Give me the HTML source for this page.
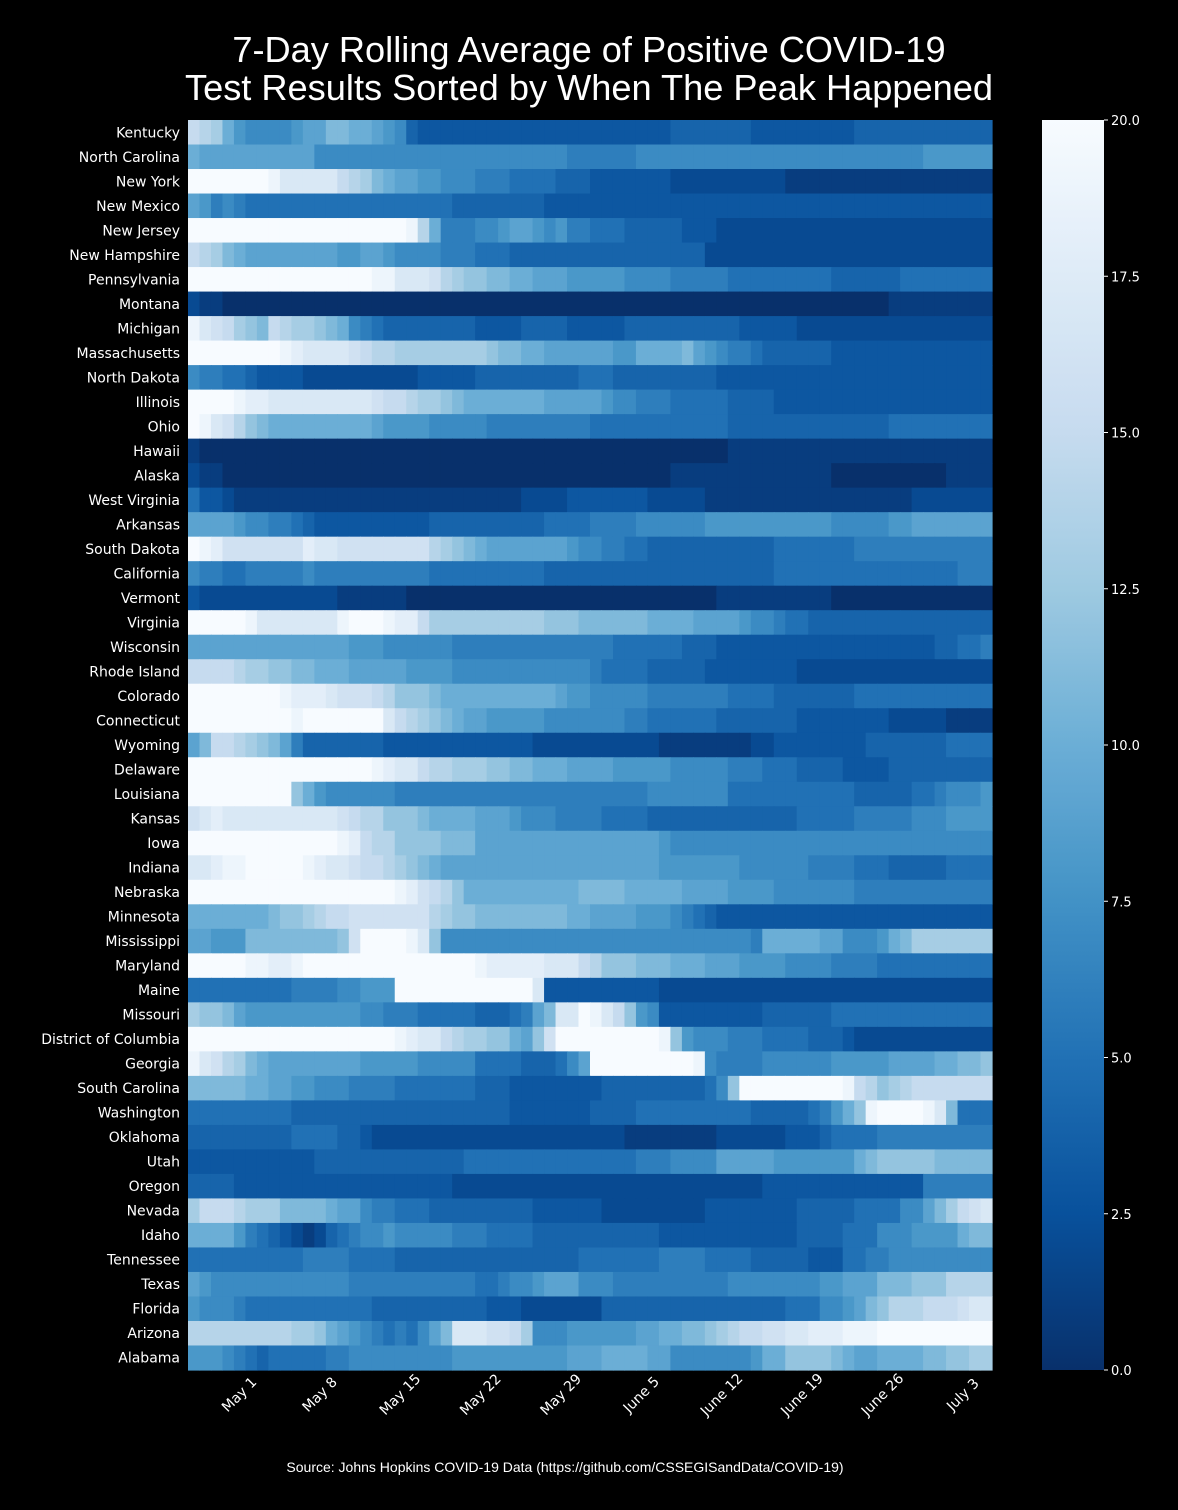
<!DOCTYPE html>
<html><head><meta charset="utf-8">
<style>
html,body{margin:0;padding:0;background:#000;}
svg{display:block;}
text{fill:#fff;}
</style></head>
<body>
<svg id="chart" width="1178" height="1510" viewBox="0 0 1178 1510" xmlns="http://www.w3.org/2000/svg">
<rect x="0" y="0" width="1178" height="1510" fill="#000"/>
<text x="589" y="62" text-anchor="middle" font-family="Liberation Sans, sans-serif" font-size="36.2">7-Day Rolling Average of Positive COVID-19</text>
<text x="589" y="100" text-anchor="middle" font-family="Liberation Sans, sans-serif" font-size="36.2">Test Results Sorted by When The Peak Happened</text>
<g id="cells"></g>
<g id="ylabels"></g>
<g id="xlabels"></g>
<defs><linearGradient id="cbgrad" x1="0" y1="1" x2="0" y2="0"></linearGradient></defs>
<rect x="1042" y="120" width="62" height="1250" fill="url(#cbgrad)"/>
<g id="cbticks"></g>
<text x="565" y="1472" text-anchor="middle" font-family="Liberation Sans, sans-serif" font-size="14">Source: Johns Hopkins COVID-19 Data (https://github.com/CSSEGISandData/COVID-19)</text>
</svg>
<script>
const states = ["Kentucky","North Carolina","New York","New Mexico","New Jersey","New Hampshire","Pennsylvania","Montana","Michigan","Massachusetts","North Dakota","Illinois","Ohio","Hawaii","Alaska","West Virginia","Arkansas","South Dakota","California","Vermont","Virginia","Wisconsin","Rhode Island","Colorado","Connecticut","Wyoming","Delaware","Louisiana","Kansas","Iowa","Indiana","Nebraska","Minnesota","Mississippi","Maryland","Maine","Missouri","District of Columbia","Georgia","South Carolina","Washington","Oklahoma","Utah","Oregon","Nevada","Idaho","Tennessee","Texas","Florida","Arizona","Alabama"];
const dateTicks = ["May 1","May 8","May 15","May 22","May 29","June 5","June 12","June 19","June 26","July 3"];
const dateTickIndex = [4,11,18,25,32,39,46,53,60,67];
const cbTicks = [0,2.5,5,7.5,10,12.5,15,17.5,20];
const cbTickLabels = ["0.0","2.5","5.0","7.5","10.0","12.5","15.0","17.5","20.0"];
// each row: 70 daily values encoded 0-9,A-K (=10..20)
const rows = [
"FEDA87777899BBAA987"+"43333"+"33333333"+"3333333333"+"4444444"+"333333333"+"4444444444444",
"A"+"9999999999"+"7777777777777777777777"+"666666"+"7777777777777777777777777"+"888888",
"KKKKKKKJHHHHHFEDBA99887776665555444"+"3333333"+"2222222222"+"111111111111111111",
"98676"+"555555555555555555"+"44444444"+"333333333333333333333333333333333333333",
"KKKKKKKKKKKKKKKKKKKJEA"+"6667789987866555"+"44444"+"333"+"222222222222222222222222",
"FEDBA9"+"9999999"+"889987777"+"666555"+"44444444444444444"+"2222222222222222222222222",
"KKKKKKKKKKKKKKKKJJHHHGEDCCBBA"+"A99"+"98888"+"87777"+"66666"+"555555555"+"444444"+"55555555",
"211"+"0000000000000000000000000000000000000000000000000000000000"+"111111111",
"JHGFDCBFEDDCBA765"+"44444444"+"3333"+"4444"+"33333"+"4444444444"+"33333"+"22222222222222222",
"KKKKKKKKJIHHHHGFEEDDDDDDDDCBBAA"+"999999"+"88AAAAB98766"+"5"+"444444"+"33333333333333",
"7665543333"+"2222222222"+"33333"+"444444444"+"555"+"444444444"+"333333333333333333333333",
"KKKKJIIHHHHHHHHHGFFEDDCBAAA"+"AAAA99999"+"877666"+"55555"+"4444"+"3333333333333333333",
"KJHGECB"+"AAAAAAA"+"AA98888"+"77777"+"666666666"+"555555555555"+"44444444444444"+"555555555",
"1"+"0000000000000000000000000000000000000000000000"+"11111111111111111111111",
"211"+"000000000000000000000000000000000000000"+"11111111111111"+"0000000000"+"1111",
"5332"+"1111111111111111111111111"+"2222"+"3333333"+"22222"+"111111111111111111"+"2222222",
"99998776654"+"3333333333"+"4444444444"+"5555"+"6666"+"777777"+"88888888888"+"77777"+"889999999",
"KJIGGGGGGGIHH"+"GGGGGGGG"+"EDCBA"+"999999"+"98776655"+"44444444444"+"5555555"+"666666666666",
"76655666667"+"6666666666"+"5555555555"+"44444444444444444444"+"5555555555555555"+"666",
"3"+"222222222222"+"111111"+"000000000000000000000000000"+"1111111111"+"00000000000000",
"KKKKKJHHHHHHH"+"JKKKJIIF"+"DDDDDDDDD"+"DCCC"+"BBBBBB"+"AAAA"+"9999"+"877655"+"4444444444444444",
"99999999999999"+"888"+"777777"+"66666666666666"+"555555"+"444"+"3333333333333333333"+"44556",
"FFFFEDDCCBBAAA"+"999998888"+"777777777777"+"65555"+"44444"+"33333333"+"22222222222222222",
"KKKKKKKKJIIIHGGGFECCCB"+"AAAAAAAAAA"+"988777"+"776666666"+"5555"+"4444444"+"555555555555",
"KKKKKKKKKJKKKKKKKHFEDCBA9"+"988888"+"7777777"+"66"+"555555"+"4444444"+"33333333"+"22222"+"1111",
"9BFFEDCB96"+"4444444"+"3333333333333"+"22222222222"+"11111111"+"22"+"33333333"+"4444444"+"5555",
"KKKKKKKKKKKKKKKKJIHHFEEDDDCCBB"+"AAA9999"+"888887"+"7777"+"666"+"555"+"4444"+"3333"+"444444444",
"KKKKKKKKKCA8"+"777777"+"6666666666666666666666"+"7777777"+"55555555555"+"44444"+"5567778",
"GHIHHHHHHHHHHGFEECCCBAAAA"+"9998777"+"6666"+"5555"+"4444444444444"+"55555"+"66666"+"7778888",
"KKKKKKKKKKKKKJIFEECCCCBBB"+"9999999999999999"+"8"+"777777777"+"7777777777777777777",
"HHIJJKKKKKJIHHGFFEDCBA"+"9999999999999999999"+"8888888"+"777777"+"6666"+"555"+"44444"+"5555",
"KKKKKKKKKKKKKKKKKKJIGFEC"+"AAAAAAAAAA"+"BBBB"+"AAAAA"+"9999"+"8888"+"7777777"+"666666666666",
"AAAAAAABCCDEFFGGGGGGG"+"EDCCBBBBBBBB"+"AA9999888765"+"4"+"333333333333333333333333",
"99888BBBBBBBBCGKKKKJHC"+"77777777777777777777777777"+"76AAAAA99777"+"8ABDDDDDDD",
"KKKKKJJIIJKKKKKKKKKKKKKK"+"KJIIIIIHHHFECCC"+"BBBAAA9998888"+"7777"+"6666"+"5555555555",
"555555555666677888"+"KKKKKKKKKKKK"+"H"+"3333333333"+"22222222222222222222222222222",
"DCCB9"+"8888888888"+"77666"+"55555"+"444569BHHKJHFC87"+"333333333"+"444444"+"55555555555555",
"KKKKKKKKKKKKKKKKKKJIHHFEDDCCA9CG"+"KKKKKKKKK"+"JC87776665555"+"4443"+"222222222222",
"JHGEDBA"+"99999999"+"88888"+"77777"+"5555"+"444"+"579"+"KKKKKKKKK"+"J"+"76666"+"777777"+"88888"+"9999"+"AABBC",
"BBBBBAA998877766665555555444"+"33333333"+"444444444"+"57C"+"KKKKKKKKK"+"JFECDEFFFFFFF",
"555555555"+"4444444444444444444"+"3333333"+"4444"+"5555555555"+"44444"+"568ACJKKKKJHB555",
"444444444"+"5555"+"443"+"2222222222222222222222"+"11111111"+"222222"+"333"+"45555"+"6666666666",
"33333333333"+"4444444444444"+"555555555"+"555555"+"6667777"+"99999"+"8888888"+"ABCCCCCBBBBB",
"4444"+"3333333333333333333"+"222222222222222222222222222"+"33333333333333"+"666666",
"DFFFEDDDBBBBA99766555"+"444444444"+"333333"+"222222222"+"33333333"+"44444"+"5555"+"779BDFGH",
"AAAA86543212456778"+"77777"+"666"+"5555"+"44444444444"+"333333333333"+"4444"+"555"+"7778888ABBC",
"5555555555"+"6666"+"5555"+"4444444444444444"+"5555555"+"6666"+"5555"+"44444"+"333"+"5566"+"777777777",
"987777"+"77777777"+"66666666666"+"556778999"+"777"+"6666666666"+"77777777"+"88999BBBCCCEEEE",
"87776"+"55555555555"+"4444444444"+"333"+"2222222"+"4444444444444444"+"5557789BCEEEFFFGHH",
"EEEEEEEEEDDCA98765657"+"9BHHHGGFD"+"777888888"+"99AABBCDEF"+"FGGHHIIIJJJ"+"KKKKKKKKKK",
"88876545555566"+"777777777"+"8888888888"+"999AAAA99"+"7777777"+"8AACCCCBA"+"99AAAABBCCDD"
];
const NC = 70;
const decode = s => { const a=[]; for(let i=0;i<NC;i++){ const c=s[Math.min(i,s.length-1)]; a.push(parseInt(c,36)); } return a; };
const values = rows.map(decode);

const X0=188, X1=992, Y0=120, Y1=1370;
const cw=(X1-X0)/NC, rh=(Y1-Y0)/states.length;
const xPos = i => X0 + i*cw;
const yPos = r => Y0 + r*rh;
const stops = ["#08306b","#08519c","#2171b5","#4292c6","#6baed6","#9ecae1","#c6dbef","#deebf7","#f7fbff"];
function hex(h){return [1,3,5].map(k=>parseInt(h.substr(k,2),16));}
function color(v){
  let t=Math.max(0,Math.min(1,v/20))*8; let i=Math.min(7,Math.floor(t)); let f=t-i;
  const a=hex(stops[i]), b=hex(stops[i+1]);
  return "rgb("+a.map((x,k)=>Math.round(x+(b[k]-x)*f)).join(",")+")";
}
const NS="http://www.w3.org/2000/svg";
const cells=document.getElementById("cells");
values.forEach((row,r)=>{
  row.forEach((v,i)=>{
    const el=document.createElementNS(NS,"rect");
    
    
    el.setAttribute("x",xPos(i).toFixed(2));
    el.setAttribute("y",yPos(r).toFixed(2));
    el.setAttribute("width",(cw+0.6).toFixed(2));
    el.setAttribute("height",(rh+0.6).toFixed(2));
    el.setAttribute("fill",color(v));
    cells.appendChild(el);
  });
});
const yl=document.getElementById("ylabels");
states.forEach((s,r)=>{
  const t=document.createElementNS(NS,"text");
  
  
  t.setAttribute("x",180);
  t.setAttribute("y",(yPos(r)+rh/2+5).toFixed(1));
  t.setAttribute("text-anchor","end");
  t.setAttribute("font-family","DejaVu Sans, sans-serif");
  t.setAttribute("font-size","14");
  t.textContent=s;
  yl.appendChild(t);
});
const xl=document.getElementById("xlabels");
dateTicks.forEach((d,k)=>{
  const cx=xPos(dateTickIndex[k])+cw/2, cy=1395;
  const t=document.createElementNS(NS,"text");
  
  
  t.setAttribute("x",cx.toFixed(1));
  t.setAttribute("y",cy);
  t.setAttribute("text-anchor","middle");
  t.setAttribute("dominant-baseline","central");
  t.setAttribute("font-family","DejaVu Sans, sans-serif");
  t.setAttribute("font-size","14");
  t.setAttribute("transform","rotate(-45 "+cx.toFixed(1)+" "+cy+")");
  t.textContent=d;
  xl.appendChild(t);
});
const grad=document.getElementById("cbgrad");
for(let k=0;k<=40;k++){
  const st=document.createElementNS(NS,"stop");
  st.setAttribute("offset",(k/40).toFixed(3));
  st.setAttribute("stop-color",color(k/2));
  grad.appendChild(st);
}
const cbt=document.getElementById("cbticks");
cbTicks.forEach((v,k)=>{
  const y=Y1-(v/20)*(Y1-Y0);
  const ln=document.createElementNS(NS,"line");
  
  
  ln.setAttribute("x1",1104);ln.setAttribute("x2",1108);
  ln.setAttribute("y1",y);ln.setAttribute("y2",y);
  ln.setAttribute("stroke","#fff");
  cbt.appendChild(ln);
  const t=document.createElementNS(NS,"text");
  
  
  t.setAttribute("x",1111);
  t.setAttribute("y",(y+5).toFixed(1));
  t.setAttribute("font-family","DejaVu Sans, sans-serif");
  t.setAttribute("font-size","13");
  t.textContent=cbTickLabels[k];
  cbt.appendChild(t);
});
</script>
</body></html>
